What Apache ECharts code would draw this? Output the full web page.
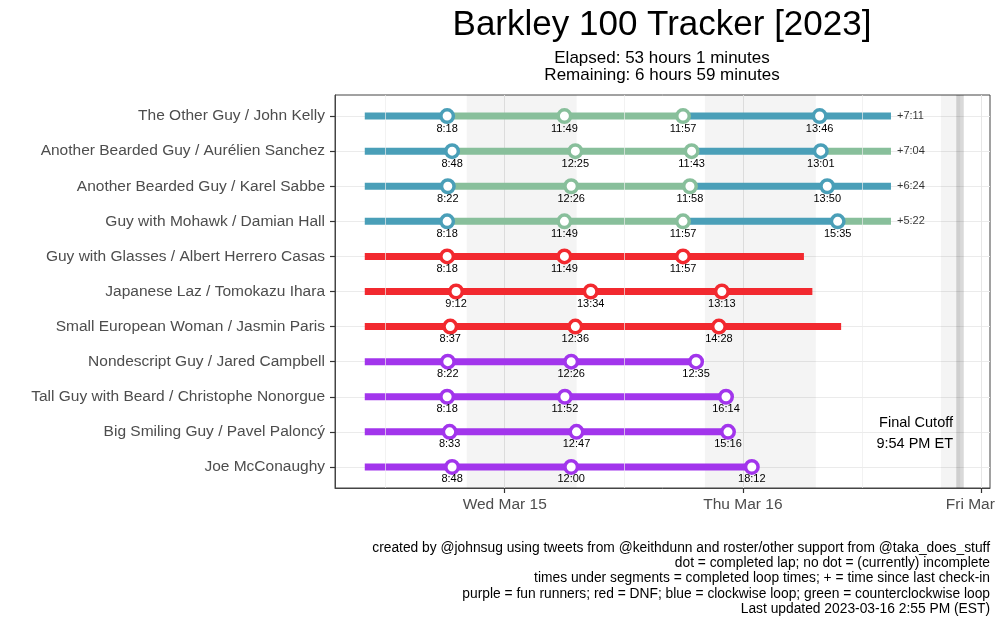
<!DOCTYPE html>
<html>
<head>
<meta charset="utf-8">
<title>Barkley 100 Tracker [2023]</title>
<script src="https://cdn.jsdelivr.net/npm/echarts@6/dist/echarts.min.js"></script>
<style>
  html, body { margin: 0; padding: 0; background: #fff; }
  #chart { width: 1000px; height: 625px; }
</style>
</head>
<body>
<div id="chart"></div>
<script>
// runners, top to bottom
const runners = [
  'The Other Guy / John Kelly',
  'Another Bearded Guy / Aurélien Sanchez',
  'Another Bearded Guy / Karel Sabbe',
  'Guy with Mohawk / Damian Hall',
  'Guy with Glasses / Albert Herrero Casas',
  'Japanese Laz / Tomokazu Ihara',
  'Small European Woman / Jasmin Paris',
  'Nondescript Guy / Jared Campbell',
  'Tall Guy with Beard / Christophe Nonorgue',
  'Big Smiling Guy / Pavel Paloncý',
  'Joe McConaughy'
]
const runnerGroup = ['racer', 'racer', 'racer', 'racer', 'dnf', 'dnf', 'dnf', 'fun', 'fun', 'fun', 'fun']

// completed loop times (h:mm)
const loopTimes = [
  ['8:18', '11:49', '11:57', '13:46'],
  ['8:48', '12:25', '11:43', '13:01'],
  ['8:22', '12:26', '11:58', '13:50'],
  ['8:18', '11:49', '11:57', '15:35'],
  ['8:18', '11:49', '11:57'],
  ['9:12', '13:34', '13:13'],
  ['8:37', '12:36', '14:28'],
  ['8:22', '12:26', '12:35'],
  ['8:18', '11:52', '16:14'],
  ['8:33', '12:47', '15:16'],
  ['8:48', '12:00', '18:12']
]
// loop direction per segment (cw = clockwise, ccw = counterclockwise), racers only
const loopDirections = [
  ['cw', 'ccw', 'ccw', 'cw', 'cw'],
  ['cw', 'ccw', 'ccw', 'cw', 'ccw'],
  ['cw', 'ccw', 'ccw', 'cw', 'cw'],
  ['cw', 'ccw', 'ccw', 'cw', 'ccw'],
  null, null, null, null, null, null, null
]
// end of the unfinished segment, hours since start
const lastSeen = [53.02, 53.02, 53.02, 53.02, 44.25, 45.1, 48.0, null, null, null, null]
const sinceCheckIn = ['+7:11', '+7:04', '+6:24', '+5:22', '', '', '', '', '', '', '']

// x axis: hours since start (Tue Mar 14, 9:54 AM)
const dayTicks = [14.1, 38.1, 62.1]
const dayLabels = ['Wed Mar 15', 'Thu Mar 16', 'Fri Mar 17']
const noonLines = [2.1, 26.1, 50.1]
const nightStart = [10.27, 34.27, 58.05]
const nightEnd = [21.35, 45.45, 60]
const cutoffHour = 60

const COLORS = { cw: '#4a9fb8', ccw: '#88bf9b', dnf: '#f2292f', fun: '#a235ec' }

function toHours (s) {
  const p = s.split(':')
  return +p[0] + (+p[1]) / 60
}
function segColor (i, j) {
  if (runnerGroup[i] === 'racer') return COLORS[loopDirections[i][j]]
  return COLORS[runnerGroup[i]]
}

const segments = []
const points = []
const checkIns = []
runners.forEach(function (name, i) {
  let t = 0
  loopTimes[i].forEach(function (lt, j) {
    const t1 = t + toHours(lt)
    segments.push([t, t1, i, segColor(i, j)])
    points.push({ value: [t1, i, lt], itemStyle: { borderColor: segColor(i, j) } })
    t = t1
  })
  if (lastSeen[i] != null) {
    segments.push([t, lastSeen[i], i, segColor(i, loopTimes[i].length)])
    checkIns.push([lastSeen[i], i, sinceCheckIn[i]])
  }
})
const rowIdx = runners.map(function (r, i) { return i })
const nights = nightStart.map(function (s, k) { return [s, nightEnd[k], 0] })

const FONT = '"Liberation Sans", Arial, Helvetica, sans-serif'
const chart = echarts.init(document.getElementById('chart'))

function txt (x, y, text, size, align) {
  return {
    type: 'text', x: x, y: y,
    style: { text: text, fontSize: size, fontFamily: FONT, fill: '#000', textAlign: align, textVerticalAlign: 'middle' }
  }
}

const option = {
  animation: false,
  backgroundColor: '#fff',
  textStyle: { fontFamily: FONT },
  grid: {
    left: 335, right: 10, top: 95, bottom: 137,
    containLabel: false,
    outerBoundsMode: 'none',
    show: true, borderColor: '#444', borderWidth: 1
  },
  xAxis: {
    type: 'value',
    min: -3,
    max: 63,
    axisLine: { show: true, onZero: false, lineStyle: { color: '#444', width: 1 } },
    axisTick: { show: true, customValues: dayTicks, length: 5, lineStyle: { color: '#333', width: 1.2 } },
    axisLabel: {
      customValues: dayTicks,
      margin: 9,
      fontSize: 15.5,
      color: '#4d4d4d',
      fontFamily: FONT,
      formatter: function (v) { return dayLabels[dayTicks.indexOf(v)] }
    },
    splitLine: { show: true, lineStyle: { color: '#e6e6e6', width: 1 } }
  },
  yAxis: {
    type: 'value',
    inverse: true,
    min: -0.6,
    max: 10.6,
    axisLine: { show: true, onZero: false, lineStyle: { color: '#444', width: 1 } },
    axisTick: { show: true, customValues: rowIdx, length: 5, lineStyle: { color: '#333', width: 1.2 } },
    axisLabel: {
      customValues: rowIdx,
      margin: 10,
      fontSize: 15.5,
      color: '#4d4d4d',
      fontFamily: FONT,
      formatter: function (v) { return runners[v] }
    },
    splitLine: { show: true, lineStyle: { color: '#ebebeb', width: 1 } }
  },
  graphic: [
    txt(662, 25, 'Barkley 100 Tracker [2023]', 35, 'center'),
    txt(662, 58, 'Elapsed: 53 hours 1 minutes', 17, 'center'),
    txt(662, 75, 'Remaining: 6 hours 59 minutes', 17, 'center'),
    txt(953, 423, 'Final Cutoff', 14.5, 'right'),
    txt(953, 444, '9:54 PM ET', 14.5, 'right'),
    txt(990, 548, 'created by @johnsug using tweets from @keithdunn and roster/other support from @taka_does_stuff', 13.8, 'right'),
    txt(990, 563.3, 'dot = completed lap; no dot = (currently) incomplete', 13.8, 'right'),
    txt(990, 578.6, 'times under segments = completed loop times; + = time since last check-in', 13.8, 'right'),
    txt(990, 593.9, 'purple = fun runners; red = DNF; blue = clockwise loop; green = counterclockwise loop', 13.8, 'right'),
    txt(990, 609.2, 'Last updated 2023-03-16 2:55 PM (EST)', 13.8, 'right')
  ],
  series: [
    {
      // night shading + minor grid + cutoff
      type: 'custom',
      z: 1,
      silent: true,
      data: nights,
      encode: { x: [0, 1], y: 2 },
      renderItem: function (params, api) {
        const a = api.coord([api.value(0), -0.6])
        const b = api.coord([api.value(1), 10.6])
        return {
          type: 'rect',
          shape: { x: a[0], y: Math.min(a[1], b[1]), width: b[0] - a[0], height: Math.abs(b[1] - a[1]) },
          style: { fill: 'rgba(0,0,0,0.045)' }
        }
      },
      markLine: {
        silent: true,
        symbol: 'none',
        label: { show: false },
        data: noonLines.map(function (h) {
          return { xAxis: h, lineStyle: { color: '#ededed', width: 0.7, type: 'solid' } }
        }).concat([{ xAxis: cutoffHour, lineStyle: { color: 'rgba(0,0,0,0.15)', width: 7.5, type: 'solid' } }])
      }
    },
    {
      type: 'custom',
      z: 2,
      silent: true,
      data: segments,
      encode: { x: [0, 1], y: 2 },
      renderItem: function (params, api) {
        const p0 = api.coord([api.value(0), api.value(2)])
        const p1 = api.coord([api.value(1), api.value(2)])
        return {
          type: 'line',
          shape: { x1: p0[0], y1: p0[1], x2: p1[0], y2: p1[1] },
          style: { stroke: segments[params.dataIndex][3], lineWidth: 7, lineCap: 'butt' }
        }
      }
    },
    {
      type: 'scatter',
      z: 3,
      silent: true,
      data: points,
      symbol: 'circle',
      symbolSize: 12.5,
      itemStyle: { color: '#fff', borderWidth: 3.5, opacity: 1 },
      label: {
        show: true,
        position: 'bottom',
        distance: -1,
        fontSize: 11,
        color: '#000',
        fontFamily: FONT,
        formatter: function (p) { return p.value[2] }
      }
    },
    {
      type: 'scatter',
      z: 3,
      silent: true,
      data: checkIns,
      symbolSize: 0,
      label: {
        show: true,
        position: 'right',
        distance: 6,
        fontSize: 11,
        color: '#000',
        fontFamily: FONT,
        formatter: function (p) { return p.value[2] }
      }
    }
  ]
}
chart.setOption(option)
</script>
</body>
</html>
